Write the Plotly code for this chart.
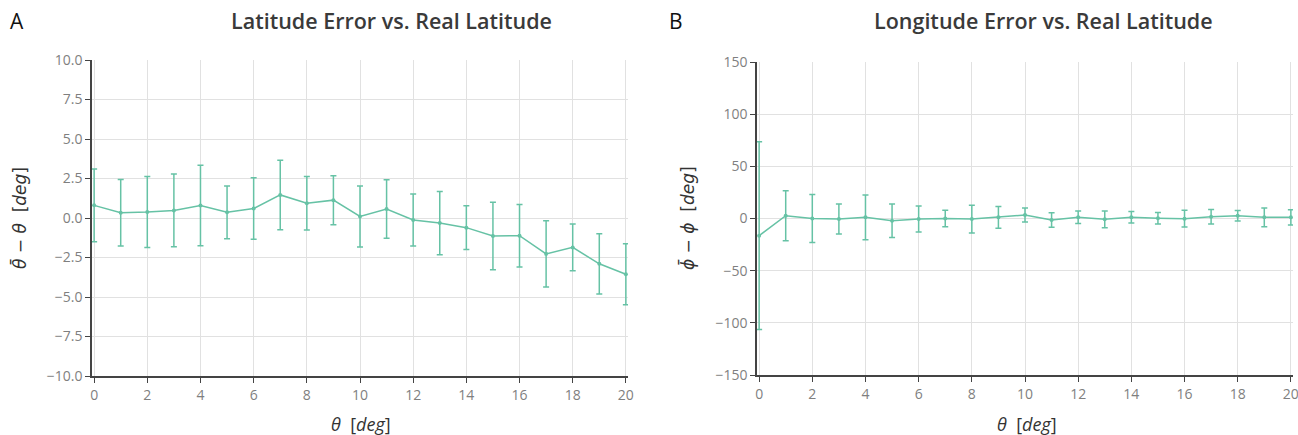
import plotly.graph_objects as go

theta = list(range(21))

lat_err = [0.80, 0.33, 0.38, 0.48, 0.79, 0.36, 0.60, 1.46, 0.93, 1.13, 0.10,
           0.57, -0.13, -0.32, -0.61, -1.14, -1.12, -2.27, -1.86, -2.90, -3.56]
lat_std = [2.30, 2.10, 2.25, 2.30, 2.55, 1.67, 1.95, 2.20, 1.69, 1.55, 1.93,
           1.85, 1.65, 2.00, 1.38, 2.14, 1.98, 2.09, 1.48, 1.91, 1.93]

lon_err = [-16.5, 2.7, 0.0, -0.5, 1.1, -2.1, -0.5, 0.0, -0.5, 1.1, 3.4,
           -1.4, 1.1, -0.8, 1.1, 0.2, -0.2, 1.7, 2.7, 1.1, 1.1]
lon_std = [90.0, 24.0, 23.0, 14.3, 21.5, 16.0, 12.5, 8.0, 13.3, 10.5, 6.7,
           7.0, 6.0, 8.0, 5.5, 5.5, 8.0, 6.9, 5.0, 8.9, 7.3]

W, H = 1298, 435
COLOR = "#66c2a5"
FONT = "Open Sans"

fig = go.Figure()

err_style = dict(type="data", thickness=1.5, width=3, color=COLOR)
fig.add_trace(go.Scatter(
    x=theta, y=lat_err, mode="lines+markers",
    line=dict(color=COLOR, width=1.5), marker=dict(size=4, color=COLOR),
    error_y=dict(array=lat_std, **err_style), xaxis="x", yaxis="y",
    showlegend=False))
fig.add_trace(go.Scatter(
    x=theta, y=lon_err, mode="lines+markers",
    line=dict(color=COLOR, width=1.5), marker=dict(size=4, color=COLOR),
    error_y=dict(array=lon_std, **err_style), xaxis="x2", yaxis="y2",
    showlegend=False))

def px_x(p):
    return p / W

def px_y(p):
    return 1 - p / H

axis_common = dict(
    showgrid=True, gridcolor="#e1e1e1", gridwidth=1,
    showline=True, linecolor="#444", linewidth=1.5,
    ticks="outside", ticklen=5, tickcolor="#444", tickwidth=1,
    zeroline=False, automargin=False, ticklabeloverflow="allow",
    tickfont=dict(family=FONT, size=14, color="#7f7f7f"),
)

fig.update_layout(
    width=W, height=H,
    margin=dict(l=0, r=0, t=0, b=0),
    paper_bgcolor="white", plot_bgcolor="white",
    font=dict(family=FONT),
    xaxis=dict(domain=[px_x(92), px_x(628)], range=[-0.08, 20.08],
               tickmode="linear", tick0=0, dtick=2, anchor="y", **axis_common),
    yaxis=dict(domain=[px_y(376), px_y(60)], range=[-10, 10],
               tickmode="linear", tick0=-10, dtick=2.5, tickformat=".1f",
               anchor="x", **axis_common),
    xaxis2=dict(domain=[px_x(757), px_x(1293)], range=[-0.08, 20.08],
                tickmode="linear", tick0=0, dtick=2, anchor="y2", **axis_common),
    yaxis2=dict(domain=[px_y(375), px_y(62)], range=[-150, 150],
                tickmode="linear", tick0=-150, dtick=50,
                anchor="x2", **axis_common),
)

def ann(text, x, y, size, color="#333", angle=0, family=FONT, weight="normal"):
    fig.add_annotation(text=text, x=px_x(x), y=px_y(y), xref="paper", yref="paper",
                       showarrow=False, textangle=angle, xanchor="center", yanchor="middle",
                       font=dict(family=family, size=size, color=color, weight=weight))

# panel letters
ann("A", 17, 21, 21, "#111")
ann("B", 676, 21, 21, "#111")
# titles
ann("Latitude Error vs. Real Latitude", 391, 21, 21.5, "#3a3a3a", weight=600)
ann("Longitude Error vs. Real Latitude", 1043, 21, 21.5, "#3a3a3a", weight=600)
# x axis titles
ann("<i>θ</i>  [<i>deg</i>]", 361, 424, 18, "#333")
ann("<i>θ</i>  [<i>deg</i>]", 1027, 424, 18, "#333")
# y axis titles
ann("<i>θ̄</i> − <i>θ</i>  [<i>deg</i>]", 20, 218, 17, "#333", angle=-90,
    family="DejaVu Sans")
ann("<i>ϕ̄</i> − <i>ϕ</i>  [<i>deg</i>]", 688, 218, 17, "#333", angle=-90,
    family="DejaVu Sans")

fig.write_html("out.html")
